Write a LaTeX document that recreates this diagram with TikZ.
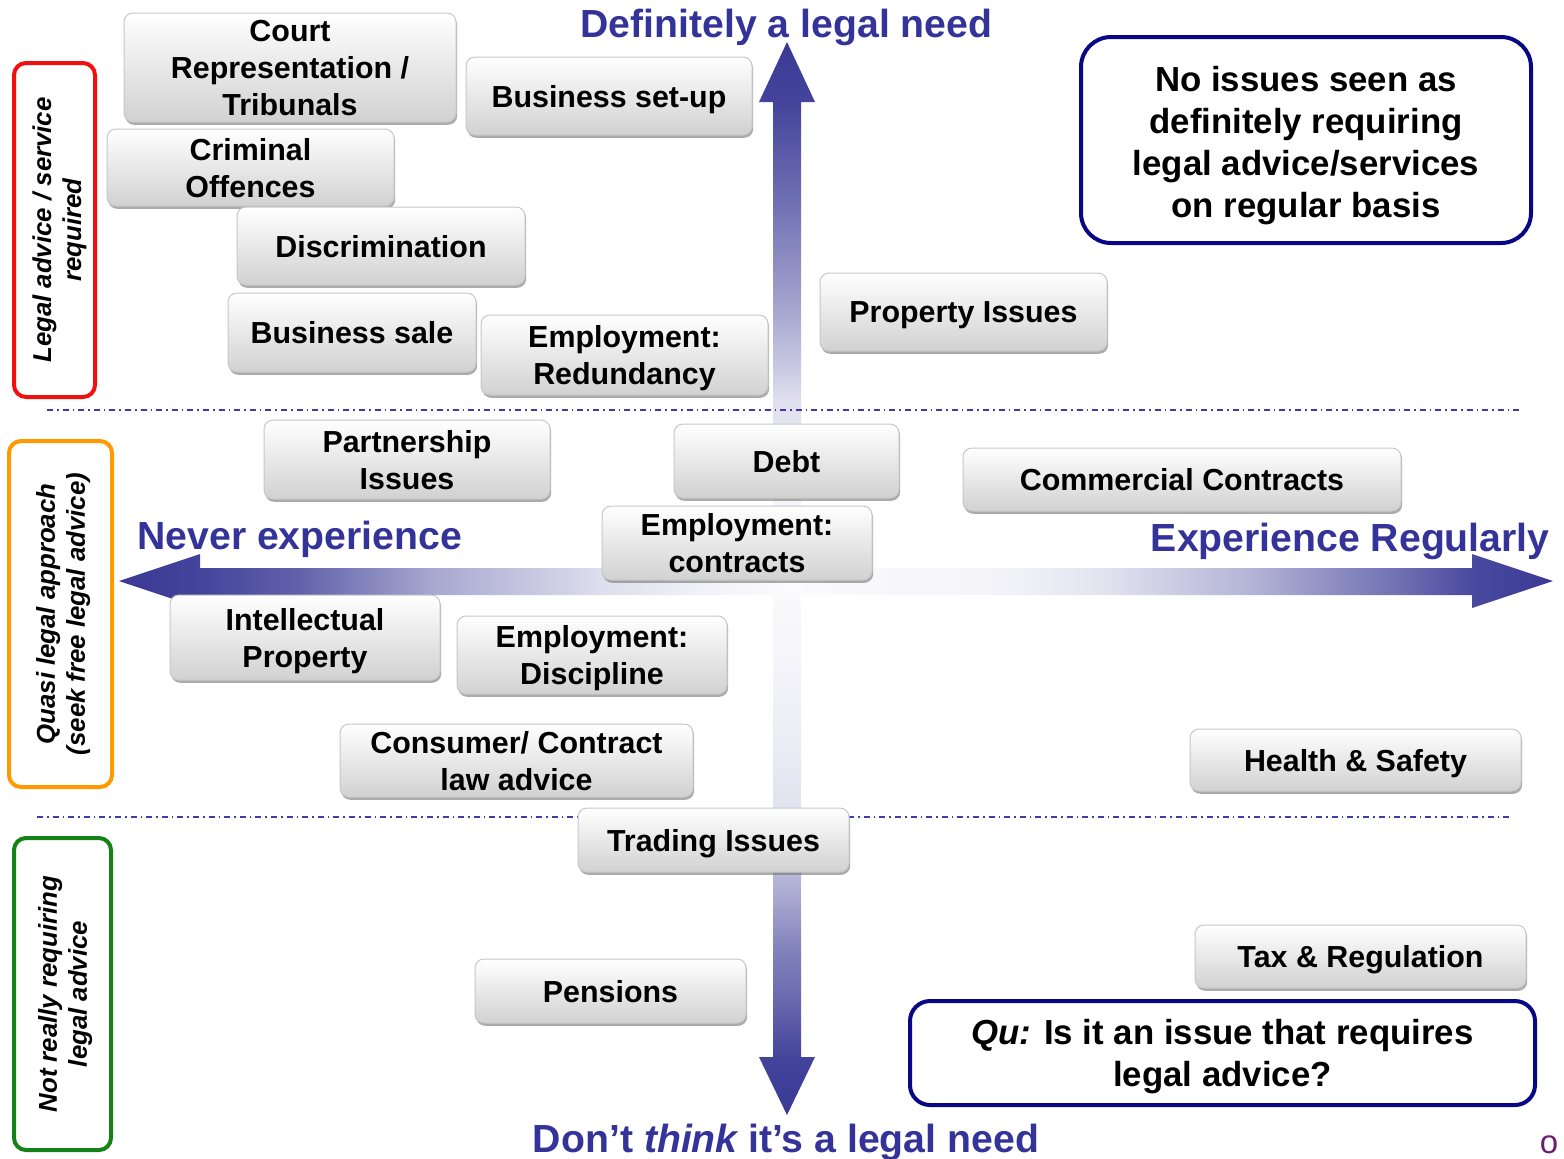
\documentclass[tikz,border=0pt]{standalone}
\usepackage{fontspec}
\setmainfont{Liberation Sans}
\usetikzlibrary{shadows}

\definecolor{axisblue}{RGB}{58,58,150}
\definecolor{headblue}{RGB}{51,51,153}
\definecolor{navyline}{RGB}{8,8,135}
\definecolor{dashblue}{RGB}{60,60,170}
\definecolor{lblred}{RGB}{240,16,16}
\definecolor{lblorange}{RGB}{255,153,0}
\definecolor{lblgreen}{RGB}{20,130,20}
\definecolor{logopurple}{RGB}{110,30,110}

% Axis fades: pale at the centre of the chart, solid towards each arrow tip
\pgfdeclareverticalshading{upfade}{100bp}{%
  color(0bp)=(axisblue!2!white); color(25bp)=(axisblue!2!white);
  color(31.5bp)=(axisblue!5!white); color(41.8bp)=(axisblue!16!white);
  color(44.9bp)=(axisblue!28!white); color(51.1bp)=(axisblue!48!white);
  color(60.3bp)=(axisblue!73!white); color(69.4bp)=(axisblue!95!white);
  color(75bp)=(axisblue); color(100bp)=(axisblue)}
\pgfdeclareverticalshading{downfade}{100bp}{%
  color(0bp)=(axisblue); color(25bp)=(axisblue);
  color(30.4bp)=(axisblue!95!white); color(35.8bp)=(axisblue!76!white);
  color(40.4bp)=(axisblue!64!white); color(45.1bp)=(axisblue!45!white);
  color(53.7bp)=(axisblue!15!white); color(59.2bp)=(axisblue!10!white);
  color(68.5bp)=(axisblue!5!white); color(75bp)=(axisblue!2!white);
  color(100bp)=(axisblue!2!white)}
\pgfdeclarehorizontalshading{leftfade}{100bp}{%
  color(0bp)=(axisblue); color(25bp)=(axisblue);
  color(31.1bp)=(axisblue!95!white); color(38.5bp)=(axisblue!80!white);
  color(48.3bp)=(axisblue!45!white); color(61bp)=(axisblue!17!white);
  color(68.5bp)=(axisblue!7!white); color(75bp)=(axisblue!2!white);
  color(100bp)=(axisblue!2!white)}
\pgfdeclarehorizontalshading{rightfade}{100bp}{%
  color(0bp)=(axisblue!2!white); color(25bp)=(axisblue!2!white);
  color(38.9bp)=(axisblue!6!white); color(45.4bp)=(axisblue!14!white);
  color(55.2bp)=(axisblue!38!white); color(65bp)=(axisblue!73!white);
  color(69.7bp)=(axisblue!92!white); color(75bp)=(axisblue);
  color(100bp)=(axisblue)}

\begin{document}
\begin{tikzpicture}[x=0.5pt,y=-0.5pt,
  issue/.style={rounded corners=4.5pt, draw=black!22, line width=0.5pt,
    top color=white, bottom color=black!18,
    drop shadow={shadow xshift=0.6pt, shadow yshift=-1.4pt, fill=black!55, opacity=0.6},
    align=center, inner sep=0pt, text depth=0pt,
    font=\bfseries\fontsize{15.2}{18.5}\selectfont},
  band/.style={rounded corners=6pt, line width=2pt, fill=white, rotate=90,
    align=center, inner sep=0pt, text depth=0pt,
    font=\bfseries\itshape\fontsize{12.9}{15}\selectfont},
  callout/.style={draw=navyline, line width=2pt, fill=white, align=center,
    inner sep=0pt, text depth=0pt, font=\bfseries\fontsize{17.4}{21}\selectfont},
  heading/.style={text=headblue, inner sep=0pt, font=\bfseries\fontsize{19.6}{23}\selectfont},
  divider/.style={dashblue, line width=0.6pt, dash pattern=on 3pt off 2pt on 0.8pt off 2pt},
]
\useasboundingbox (0,0) rectangle (1564,1158);

% ---- axes -------------------------------------------------------------
\coordinate (centre) at (787,581);
\shade[shading=upfade]
  (773,581) -- (773,102) -- (759,102) -- (787,42) -- (815,102) -- (801,102) -- (801,581) -- cycle;
\shade[shading=downfade]
  (773,581) -- (773,1057) -- (759,1057) -- (787,1115) -- (815,1057) -- (801,1057) -- (801,581) -- cycle;
\shade[shading=leftfade]
  (787,568) -- (200,568) -- (200,554) -- (119,581) -- (200,608) -- (200,595) -- (787,595) -- cycle;
\shade[shading=rightfade]
  (787,568) -- (1472,568) -- (1472,554) -- (1553,581) -- (1472,608) -- (1472,595) -- (787,595) -- cycle;

% ---- band dividers ----------------------------------------------------
\coordinate (upperW) at (47,410);
\coordinate (upperE) at (1522,410);
\coordinate (lowerW) at (37,817);
\coordinate (lowerE) at (1512,817);
\draw[divider] (upperW) -- (upperE);
\draw[divider] (lowerW) -- (lowerE);

% ---- axis headings ----------------------------------------------------
\node[heading, anchor=base] (needTop) at (786.5,37) {Definitely a legal need};
\node[heading, anchor=base west] (never) at (137,549) {Never experience};
\node[heading, anchor=base east] (regular) at (1550,551) {Experience Regularly};
\node[heading, anchor=base] (needBottom) at (786,1152) {Don’t {\itshape think} it’s a legal need};

% ---- band labels ------------------------------------------------------
\node[band, draw=lblred, minimum width=167pt, minimum height=40.5pt, text height=26.5pt] (bandTop) at (54.5,230)
  {Legal advice / service\\required};
\node[band, draw=lblorange, minimum width=173pt, minimum height=51.5pt] (bandMid) at (60.5,614)
  {Quasi legal approach\\(seek free legal advice)};
\node[band, draw=lblgreen, minimum width=156pt, minimum height=48.5pt] (bandLow) at (62.5,994)
  {Not really requiring\\legal advice};

% ---- issues -----------------------------------------------------------
\node[issue, minimum width=166pt, minimum height=54.5pt] (court) at (290,67.5) {Court\\Representation /\\Tribunals};
\node[issue, minimum width=143pt, minimum height=39pt] (setup) at (609,96) {Business set-up};
\node[issue, minimum width=143.5pt, minimum height=38.5pt] (criminal) at (250.5,167.5) {Criminal\\Offences};
\node[issue, minimum width=144pt, minimum height=39pt] (discrim) at (381,246) {Discrimination};
\node[issue, minimum width=124pt, minimum height=39.5pt] (bsale) at (352,332.5) {Business sale};
\node[issue, minimum width=143.5pt, minimum height=40pt] (redund) at (624.5,355) {Employment:\\Redundancy};
\node[issue, minimum width=143.5pt, minimum height=39pt] (property) at (963.5,312) {Property Issues};
\node[issue, minimum width=143pt, minimum height=39.5pt] (partner) at (407,459.5) {Partnership\\Issues};
\node[issue, minimum width=112.5pt, minimum height=37pt] (debt) at (786.5,461) {Debt};
\node[issue, minimum width=219pt, minimum height=31.5pt] (commercial) at (1182,479.5) {Commercial Contracts};
\node[issue, minimum width=135pt, minimum height=37pt] (empcontract) at (737,543) {Employment:\\contracts};
\node[issue, minimum width=135pt, minimum height=42.5pt] (ip) at (305,637.5) {Intellectual\\Property};
\node[issue, minimum width=135pt, minimum height=39pt] (discipline) at (592,655) {Employment:\\Discipline};
\node[issue, minimum width=176.5pt, minimum height=36.5pt] (consumer) at (516.5,760.5) {Consumer/ Contract\\law advice};
\node[issue, minimum width=165.5pt, minimum height=31pt] (health) at (1355.5,760) {Health \& Safety};
\node[issue, minimum width=135.5pt, minimum height=32pt] (trading) at (713.5,840) {Trading Issues};
\node[issue, minimum width=165.5pt, minimum height=31.5pt] (tax) at (1360.5,956.5) {Tax \& Regulation};
\node[issue, minimum width=135.5pt, minimum height=32pt] (pensions) at (610.5,991) {Pensions};

% ---- call-outs --------------------------------------------------------
\node[callout, rounded corners=15pt, minimum width=225pt, minimum height=103pt, text height=77.9pt] (noissues) at (1306,140)
  {No issues seen as\\definitely requiring\\legal advice/services\\on regular basis};
\node[callout, rounded corners=10pt, minimum width=312.5pt, minimum height=52pt] (question) at (1222.5,1053)
  {{\itshape Qu:} Is it an issue that requires\\legal advice?};

% ---- corner mark ------------------------------------------------------
\node[text=logopurple, inner sep=0pt, anchor=base, font=\fontsize{16.5}{18}\selectfont] (mark) at (1549,1153) {o};
\end{tikzpicture}
\end{document}
